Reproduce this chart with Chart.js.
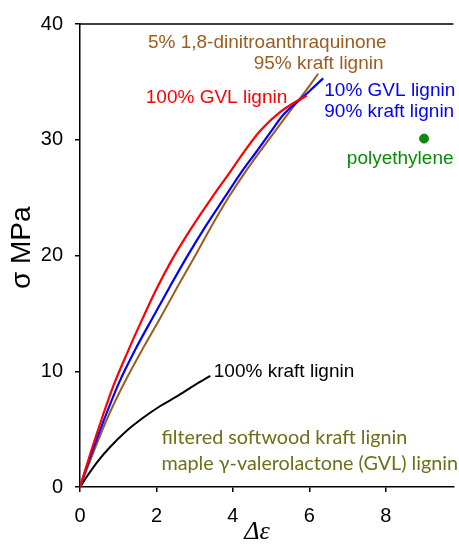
<!DOCTYPE html>
<html>
<head>
<meta charset="utf-8">
<script src="https://cdn.jsdelivr.net/npm/chart.js@4"></script>
<style>
  body { margin: 0; background: #fff; }
  #wrap { width: 459px; height: 545px; }
</style>
</head>
<body>
<div id="wrap"><canvas id="chart" width="459" height="545"></canvas></div>
<script>
// strain (x) and stress (y, MPa)
const gvlStrain = [0, 0.3, 0.6, 0.88, 1.25, 1.63, 2.0, 2.4, 2.9, 3.45, 3.9, 4.3, 4.72, 5.24, 5.6, 5.93];
const gvlStress = [0, 3.2, 6.2, 8.8, 11.7, 14.5, 17.1, 19.6, 22.3, 25.0, 27.1, 29.0, 30.8, 32.4, 33.2, 33.8];

const mixStrain = [0, 0.3, 0.65, 1.02, 1.45, 1.93, 2.35, 2.8, 3.3, 3.8, 4.2, 4.6, 4.97, 5.33, 5.84, 6.1, 6.36];
const mixStress = [0, 2.9, 6.0, 9.0, 11.9, 14.8, 17.3, 19.9, 22.6, 25.1, 27.1, 28.9, 30.6, 32.2, 33.7, 34.5, 35.3];

const dnaqStrain = [0, 0.35, 0.75, 1.19, 1.65, 2.1, 2.55, 3.05, 3.45, 3.9, 4.3, 4.7, 5.07, 5.5, 5.9, 6.23];
const dnaqStress = [0, 3.0, 6.2, 9.2, 12.0, 14.6, 17.3, 20.2, 22.6, 25.1, 27.1, 28.95, 30.6, 32.5, 34.2, 35.7];

const kraftStrain = [0, 0.2, 0.46, 0.8, 1.2, 1.66, 2.1, 2.52, 3.0, 3.41];
const kraftStress = [0, 1.0, 2.2, 3.5, 4.8, 6.0, 7.0, 7.8, 8.8, 9.6];

const peStrain = [9.0];
const peStress = [30.1];

const xTicks = [0, 2, 4, 6, 8];
const yTicks = [0, 10, 20, 30, 40];

// Colors
const red = '#FF0000';
const blue = '#0000FF';
const brown = '#9C5B1F';
const green = '#0A8A0A';
const olive = '#6E6E1C';

function pts(xs, ys) {
  return xs.map((x, i) => ({ x: x, y: ys[i] }));
}

// text notes, placed in data units
const notes = [
  { text: '5% 1,8-dinitroanthraquinone', x: 4.9, y: 38.4, color: brown, align: 'center' },
  { text: '95% kraft lignin', x: 7.94, y: 36.6, color: brown, align: 'right' },
  { text: '100% GVL lignin', x: 1.72, y: 33.6, color: red, align: 'left' },
  { text: '10% GVL lignin', x: 6.39, y: 34.2, color: blue, align: 'left' },
  { text: '90% kraft lignin', x: 6.39, y: 32.4, color: blue, align: 'left' },
  { text: 'polyethylene', x: 6.98, y: 28.4, color: green, align: 'left' },
  { text: '100% kraft lignin', x: 3.5, y: 9.95, color: '#000', align: 'left' },
  { text: 'filtered softwood kraft lignin', x: 2.13, y: 4.23, color: olive, align: 'left', font: '19.8px Lato' },
  { text: 'maple γ-valerolactone (GVL) lignin', x: 2.13, y: 2.04, color: olive, align: 'left', font: '19.8px Lato' }
];

const notePlugin = {
  id: 'notes',
  afterDatasetsDraw(chart) {
    const ctx = chart.ctx;
    const area = chart.chartArea;
    ctx.save();
    // top frame line
    ctx.strokeStyle = '#000';
    ctx.lineWidth = 1.5;
    ctx.beginPath();
    ctx.moveTo(area.left, area.top);
    ctx.lineTo(area.right, area.top);
    ctx.stroke();
    ctx.textBaseline = 'middle';
    notes.forEach(n => {
      ctx.font = n.font || '19px "Liberation Sans", Arial, sans-serif';
      ctx.fillStyle = n.color;
      ctx.textAlign = n.align;
      ctx.fillText(n.text, chart.scales.x.getPixelForValue(n.x), chart.scales.y.getPixelForValue(n.y));
    });
    ctx.restore();
  }
};

const lineOpts = { showLine: true, pointRadius: 0, cubicInterpolationMode: 'monotone' };

new Chart(document.getElementById('chart').getContext('2d'), {
  type: 'scatter',
  data: {
    datasets: [
      { label: '100% GVL lignin', data: pts(gvlStrain, gvlStress), borderColor: red, borderWidth: 2.2, ...lineOpts },
      { label: '10% GVL lignin 90% kraft lignin', data: pts(mixStrain, mixStress), borderColor: blue, borderWidth: 2.2, ...lineOpts },
      { label: '5% 1,8-dinitroanthraquinone 95% kraft lignin', data: pts(dnaqStrain, dnaqStress), borderColor: brown, borderWidth: 2, ...lineOpts },
      { label: '100% kraft lignin', data: pts(kraftStrain, kraftStress), borderColor: '#000', borderWidth: 2, ...lineOpts },
      { label: 'polyethylene', data: pts(peStrain, peStress), backgroundColor: green, borderColor: green, pointRadius: 4.5, showLine: false }
    ]
  },
  options: {
    responsive: false,
    animation: false,
    layout: { padding: { top: 21, right: 0, left: 0, bottom: 0 } },
    plugins: {
      legend: { display: false },
      tooltip: { enabled: false }
    },
    scales: {
      x: {
        type: 'linear',
        min: 0,
        max: 9.77,
        afterFit(scale) { scale.height = 58; },
        afterBuildTicks(scale) { scale.ticks = xTicks.map(v => ({ value: v })); },
        grid: { display: true, drawOnChartArea: false, drawTicks: true, tickLength: 5, color: '#000', lineWidth: 1.5 },
        border: { display: true, color: '#000', width: 1.5 },
        ticks: { color: '#000', font: { family: '"Liberation Sans", Arial, sans-serif', size: 20 }, padding: 12, maxRotation: 0 },
        title: { display: true, text: 'Δε   ', color: '#000', font: { family: '"Liberation Serif", "DejaVu Serif", serif', size: 26, style: 'italic', lineHeight: 1 }, padding: 0 }
      },
      y: {
        min: 0,
        max: 40,
        afterFit(scale) { scale.width = 80; },
        afterBuildTicks(scale) { scale.ticks = yTicks.map(v => ({ value: v })); },
        grid: { display: true, drawOnChartArea: false, drawTicks: true, tickLength: 5, color: '#000', lineWidth: 1.5 },
        border: { display: true, color: '#000', width: 1.5 },
        ticks: { color: '#000', font: { family: '"Liberation Sans", Arial, sans-serif', size: 20 }, padding: 12 },
        title: { display: true, text: '  σ MPa', color: '#000', font: { family: '"Liberation Sans", Arial, sans-serif', size: 28, lineHeight: 1.2 }, padding: { top: 5 } }
      }
    }
  },
  plugins: [notePlugin]
});
</script>
</body>
</html>
